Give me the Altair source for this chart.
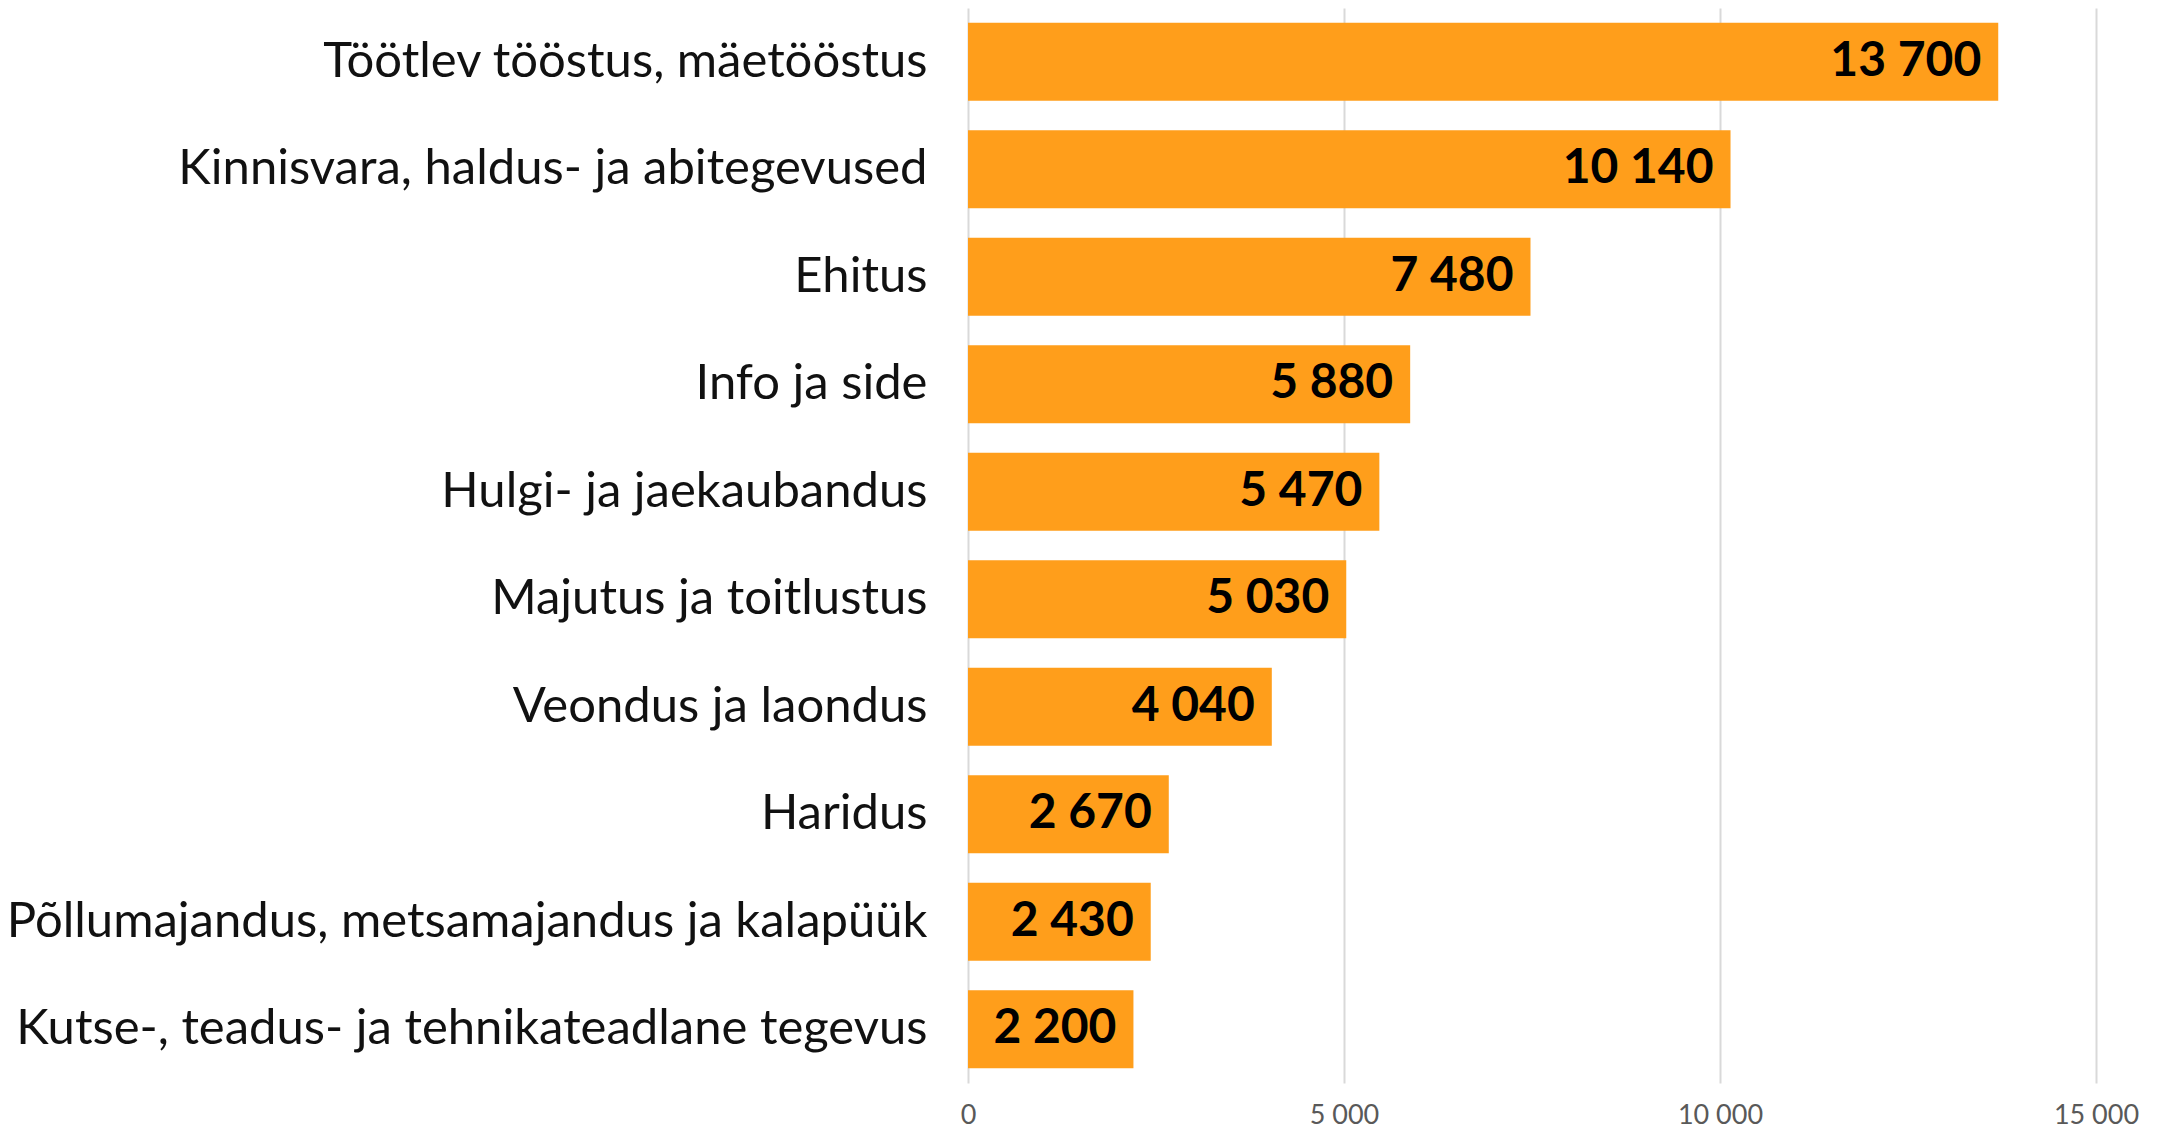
import altair as alt
import pandas as pd

categories = [
    "Töötlev tööstus, mäetööstus",
    "Kinnisvara, haldus- ja abitegevused",
    "Ehitus",
    "Info ja side",
    "Hulgi- ja jaekaubandus",
    "Majutus ja toitlustus",
    "Veondus ja laondus",
    "Haridus",
    "Põllumajandus, metsamajandus ja kalapüük",
    "Kutse-, teadus- ja tehnikateadlane tegevus",
]
values = [13700, 10140, 7480, 5880, 5470, 5030, 4040, 2670, 2430, 2200]
x_ticks = [0, 5000, 10000, 15000]

df = pd.DataFrame({"cat": categories, "v": values})

FONT = "Lato"
BAR = "#FF9E1B"

y = alt.Y(
    "cat:N",
    sort=categories,
    title=None,
    scale=alt.Scale(paddingInner=0.275, paddingOuter=0.1375),
    axis=alt.Axis(
        domain=False, ticks=False, labelPadding=41, labelFontSize=49,
        labelFont=FONT, labelColor="#111111", labelLimit=1000,
    ),
)
x = alt.X(
    "v:Q",
    title=None,
    scale=alt.Scale(domain=[0, 15000], nice=False),
    axis=alt.Axis(
        values=x_ticks, domain=False, ticks=False, grid=True,
        gridColor="#D9D9D9", gridWidth=2, labelFontSize=27, labelFont=FONT,
        labelColor="#595959", labelPadding=19, labelFlush=False,
        labelExpr="replace(format(datum.value, ','), ',', ' ')",
    ),
)

bars = alt.Chart(df).mark_bar(color=BAR).encode(x=x, y=y)
text = alt.Chart(df).mark_text(
    align="right", baseline="middle", dx=-17, fontSize=48, font=FONT,
    fontWeight="bold", color="#000000",
).transform_calculate(
    lbl="replace(format(datum.v, ','), ',', ' ')"
).encode(x="v:Q", y=alt.Y("cat:N", sort=categories), text="lbl:N")

chart = (bars + text).properties(
    width=1128, height=1075,
    autosize=alt.AutoSizeParams(type="none"),
    padding={"left": 960, "top": 0, "right": 60, "bottom": 47},
).configure_view(stroke=None)

chart.save("out.html", embed_options={"renderer": "svg", "actions": False})
